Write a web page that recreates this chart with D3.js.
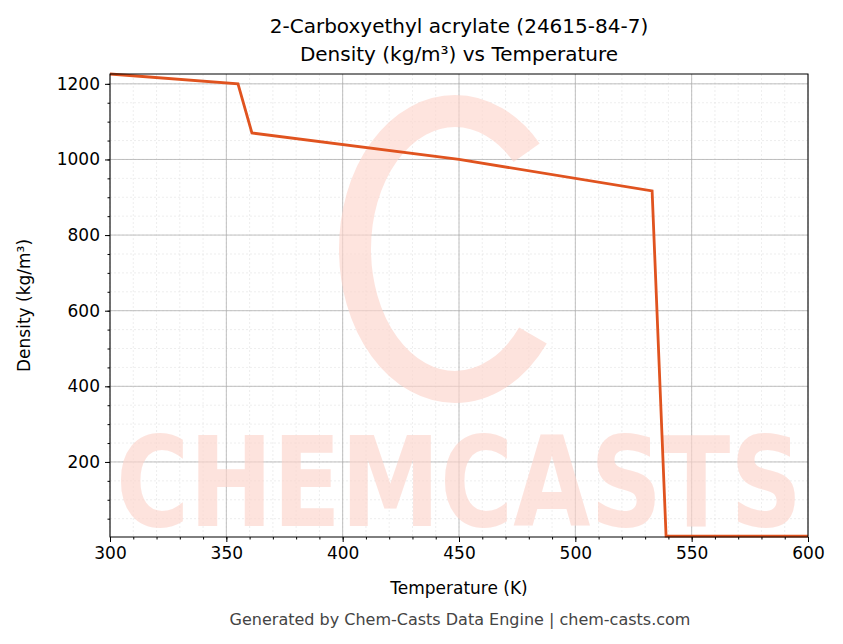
<!DOCTYPE html>
<html><head><meta charset="utf-8">
<script src="https://cdn.jsdelivr.net/npm/d3@7"></script>
<style>body{margin:0;background:#fff}text{font-family:"DejaVu Sans",sans-serif}</style>
</head><body><div id="chart"></div>
<script>
var temps = [300, 355, 361, 450, 533, 539, 600]
var density = [1226, 1200, 1070, 1000, 917, 4, 4]
var xTicks = [300, 350, 400, 450, 500, 550, 600]
var yTicks = [200, 400, 600, 800, 1000, 1200]

var margin = {top: 74, right: 35, bottom: 107, left: 110},
    width = 843 - margin.left - margin.right,
    height = 644 - margin.top - margin.bottom

var svg = d3.select("#chart").append("svg")
    .attr("width", 843).attr("height", 644)

var g = svg.append("g").attr("transform", "translate(" + margin.left + "," + margin.top + ")")

var x = d3.scaleLinear().domain([300, 600]).range([0, width])
var y = d3.scaleLinear().domain([1.5, 1226]).range([height, 0])

// minor grid
g.selectAll(".gxm").data(d3.range(300, 601, 10)).enter().append("line")
  .attr("x1", x).attr("x2", x).attr("y1", 0).attr("y2", height)
  .attr("stroke", "#ddd").attr("stroke-width", 0.5).attr("stroke-dasharray", "2,2")
g.selectAll(".gym").data(d3.range(50, 1226, 50)).enter().append("line")
  .attr("y1", y).attr("y2", y).attr("x1", 0).attr("x2", width)
  .attr("stroke", "#ddd").attr("stroke-width", 0.5).attr("stroke-dasharray", "2,2")
// major grid
g.selectAll(".gx").data(xTicks).enter().append("line")
  .attr("x1", x).attr("x2", x).attr("y1", 0).attr("y2", height)
  .attr("stroke", "#b0b0b0").attr("stroke-width", 0.8)
g.selectAll(".gy").data(yTicks).enter().append("line")
  .attr("y1", y).attr("y2", y).attr("x1", 0).attr("x2", width)
  .attr("stroke", "#b0b0b0").attr("stroke-width", 0.8)

// watermark
var wm = g.append("g").attr("fill", "#fdd5cc").attr("opacity", 0.65)
wm.append("ellipse").attr("cx", 345).attr("cy", 175).attr("rx", 100).attr("ry", 138)
  .attr("fill", "none").attr("stroke", "#fdd5cc").attr("stroke-width", 32)
  .attr("stroke-dasharray", "560,200").attr("stroke-dashoffset", -90)
wm.append("text").attr("x", width / 2).attr("y", 452).attr("text-anchor", "middle")
  .attr("font-size", 125).attr("font-weight", "bold").attr("textLength", width - 12)
  .attr("lengthAdjust", "spacingAndGlyphs").text("CHEMCASTS")

g.append("path").datum(temps)
  .attr("fill", "none").attr("stroke", "#e0531f").attr("stroke-width", 2.8)
  .attr("d", d3.line().x(function(d){return x(d)}).y(function(d, i){return y(density[i])}))

g.append("rect").attr("width", width).attr("height", height)
  .attr("fill", "none").attr("stroke", "#000").attr("stroke-width", 1)

var xa = g.append("g").attr("transform", "translate(0," + height + ")")
  .call(d3.axisBottom(x).tickValues(xTicks).tickSize(5).tickPadding(5).tickFormat(d3.format("d")))
var xm = xa.append("g").call(d3.axisBottom(x).tickValues(d3.range(310, 600, 10)).tickSize(2.5))
xm.selectAll("text").remove()
var ya = g.append("g").call(d3.axisLeft(y).tickValues(yTicks).tickSize(5).tickPadding(5).tickFormat(d3.format("d")))
var ym = ya.append("g").call(d3.axisLeft(y).tickValues(d3.range(50, 1226, 50)).tickSize(2.5))
ym.selectAll("text").remove()
g.selectAll(".domain").remove()
g.selectAll(".tick text").attr("font-size", 17).attr("fill", "#000")
  .style("font-family", "DejaVu Sans")

svg.append("text").attr("x", 459).attr("y", 33).attr("text-anchor", "middle")
  .attr("font-size", 20).text("2-Carboxyethyl acrylate (24615-84-7)")
svg.append("text").attr("x", 459).attr("y", 61).attr("text-anchor", "middle")
  .attr("font-size", 20).text("Density (kg/m³) vs Temperature")
svg.append("text").attr("x", 459).attr("y", 594).attr("text-anchor", "middle")
  .attr("font-size", 17).text("Temperature (K)")
svg.append("text").attr("transform", "translate(30," + (margin.top + height / 2) + ") rotate(-90)")
  .attr("text-anchor", "middle").attr("font-size", 17).text("Density (kg/m³)")
svg.append("text").attr("x", 460).attr("y", 625).attr("text-anchor", "middle")
  .attr("font-size", 16).attr("fill", "#444").text("Generated by Chem-Casts Data Engine | chem-casts.com")
</script></body></html>
